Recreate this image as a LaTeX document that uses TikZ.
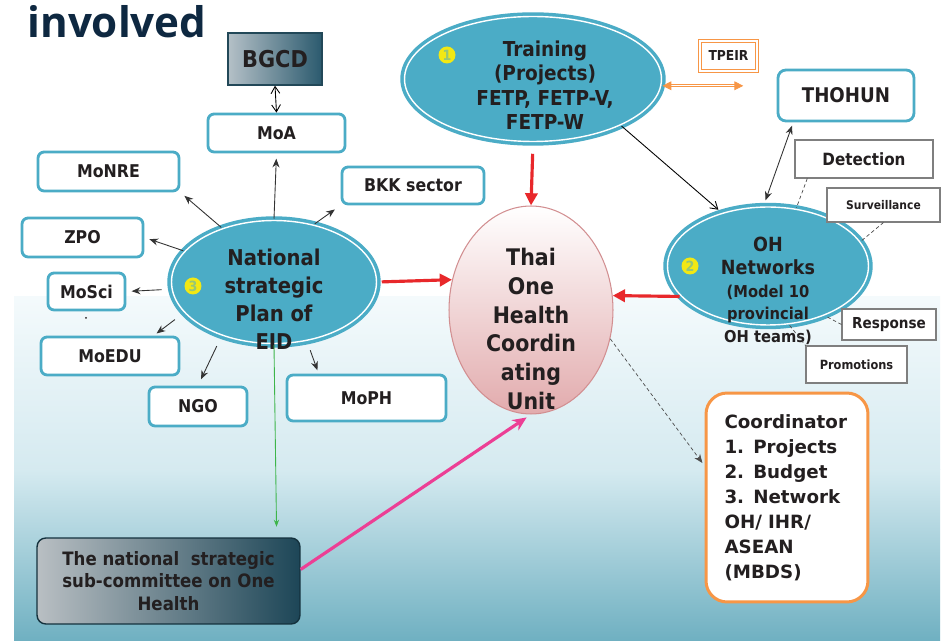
\documentclass[tikz,border=0pt]{standalone}
\usepackage{fontspec}
\setmainfont{DejaVu Sans Condensed}
\newfontfamily\widefont{DejaVu Sans}
\newfontfamily\titlefont{Open Sans}
\usetikzlibrary{shapes.geometric,arrows.meta}

\definecolor{ohteal}{HTML}{4BACC6}
\definecolor{ohred}{HTML}{E8282B}
\definecolor{ohpink}{HTML}{EC3F95}
\definecolor{ohgreen}{HTML}{3DB54A}
\definecolor{ohorange}{HTML}{F79646}
\definecolor{navy}{HTML}{0E2841}
\definecolor{txtdark}{HTML}{231F20}
\definecolor{boxgray}{HTML}{7F7F7F}
\definecolor{thaipink}{HTML}{E2ABAD}
\definecolor{thaiedge}{HTML}{D28F91}
\definecolor{bgcdlight}{HTML}{B4C0C7}
\definecolor{bgcddark}{HTML}{2B5A6E}
\definecolor{sublight}{HTML}{B9BFC3}
\definecolor{subdark}{HTML}{1D4657}
\definecolor{badgeyellow}{HTML}{F2E814}
\definecolor{bgtop}{HTML}{F4FAFC}
\definecolor{bgmid}{HTML}{D5EAF0}
\definecolor{bgbot}{HTML}{6FB0C1}

\begin{document}
\begin{tikzpicture}[x=0.02cm,y=-0.02cm,
  org node/.style={draw=ohteal,line width=1.6pt,rounded corners=3.5pt,fill=white,
    text=txtdark,inner sep=0pt,font=\fontsize{10}{12}\selectfont\bfseries},
  plain node/.style={draw=boxgray,line width=0.6pt,fill=white,text=txtdark,inner sep=0pt},
  blue ellipse/.style={ellipse,draw=ohteal,double=white,double distance=0.8pt,
    line width=2pt,fill=ohteal,inner sep=0pt},
  ell text/.style={align=center,text=txtdark},
  badge/.style={circle,fill=badgeyellow,inner sep=0pt,minimum size=0.34cm,
    text=ohteal!55!badgeyellow,font=\fontsize{8}{8}\selectfont\bfseries},
  thin arrow/.style={-{Stealth[length=5pt,width=4pt]},line width=0.5pt,color=black!80},
  barb arrow/.style={-{Straight Barb[length=4pt,width=5pt]},line width=0.5pt},
  red arrow/.style={-{Triangle[length=7pt,width=7pt]},color=ohred,line width=1.8pt},
  dash line/.style={draw=black!70,line width=0.4pt,dash pattern=on 2pt off 1.5pt}]

  % background
  \useasboundingbox (0,0) rectangle (948,641);
  \fill[white] (0,0) rectangle (948,641);
  \shade[top color=bgtop,bottom color=bgmid] (14,297) rectangle (940,470);
  \shade[top color=bgmid,bottom color=bgbot] (14,470) rectangle (940,641);

  \node[text=navy,font=\titlefont\fontsize{24}{24}\selectfont\bfseries] (title) at (117,22) {involved};

  % ministries around the national plan
  \node[draw=bgcddark!80!black,line width=0.8pt,left color=bgcdlight,right color=bgcddark,
    minimum width=1.88cm,minimum height=1.04cm,text=txtdark,
    font=\fontsize{13.2}{14}\selectfont\bfseries] (bgcd) at (275,59) {BGCD};
  \node[org node,minimum width=2.74cm,minimum height=0.76cm] (moa) at (276.5,133) {MoA};
  \node[org node,minimum width=2.82cm,minimum height=0.78cm] (monre) at (108.5,171.5) {MoNRE};
  \node[org node,minimum width=2.42cm,minimum height=0.78cm] (zpo) at (82.5,237.5) {ZPO};
  \node[org node,minimum width=1.54cm,minimum height=0.74cm] (mosci) at (86.5,291.5) {MoSci};
  \fill[txtdark] (86,318) circle [radius=1];
  \node[org node,minimum width=2.76cm,minimum height=0.76cm] (moedu) at (110,356) {MoEDU};
  \node[org node,minimum width=1.96cm,minimum height=0.78cm] (ngo) at (198,406.5) {NGO};
  \node[org node,minimum width=3.18cm,minimum height=0.92cm] (moph) at (366.5,398) {MoPH};
  \node[org node,minimum width=2.84cm,minimum height=0.74cm] (bkk) at (413,185.5) {BKK sector};

  % the three pillars
  \node[blue ellipse,minimum width=4.1cm,minimum height=2.46cm] (nat) at (274,282) {};
  \node[ell text,font=\fontsize{12.4}{15.9}\selectfont\bfseries] (nattxt) at (274,299)
    {National\\strategic\\Plan of\\EID};
  \node[badge] (b3) at (193,286) {3};

  \node[blue ellipse,minimum width=5.14cm,minimum height=2.5cm] (train) at (533,79) {};
  \node[ell text,font=\fontsize{11.7}{13.9}\selectfont\bfseries] (traintxt) at (545,85)
    {Training\\(Projects)\\FETP, FETP-V,\\FETP-W};
  \node[badge] (b1) at (447,55) {1};

  \node[blue ellipse,minimum width=4.02cm,minimum height=2.36cm] (oh) at (768,266) {};
  \node[ell text,font=\fontsize{11.1}{13}\selectfont\bfseries] (ohtxt) at (768,291)
    {OH\\Networks\\\fontsize{9.3}{13}\selectfont(Model 10\\\fontsize{9.3}{13}\selectfont provincial\\\fontsize{9.3}{13}\selectfont OH teams)};
  \node[badge] (b2) at (690,266) {2};

  \node[ellipse,draw=thaiedge,line width=0.6pt,top color=white,bottom color=thaipink,
    minimum width=3.28cm,minimum height=4.16cm,inner sep=0pt] (thai) at (531,310) {};
  \node[ell text,font=\fontsize{13}{16.4}\selectfont\bfseries] (thaitxt) at (531,329)
    {Thai\\One\\Health\\Coordin\\ating\\Unit};

  % right hand side
  \node[draw=ohorange,double=white,double distance=1pt,line width=0.5pt,fill=white,
    minimum width=1.14cm,minimum height=0.6cm,inner sep=0pt,text=txtdark,
    font=\fontsize{7.8}{9}\selectfont\bfseries] (tpeir) at (728.5,56) {TPEIR};
  \node[org node,rounded corners=4.5pt,minimum width=2.72cm,minimum height=1.02cm,
    font=\fontsize{11.5}{13}\selectfont\bfseries] (thohun) at (846,95.5) {THOHUN};
  \node[plain node,minimum width=2.76cm,minimum height=0.76cm,
    font=\fontsize{9.6}{11}\selectfont\bfseries] (det) at (864,159) {Detection};
  \node[plain node,minimum width=2.26cm,minimum height=0.68cm,
    font=\fontsize{6.8}{8}\selectfont\bfseries] (surv) at (883.5,205) {Surveillance};
  \node[plain node,minimum width=1.88cm,minimum height=0.62cm,
    font=\fontsize{8.6}{10}\selectfont\bfseries] (resp) at (889,324.5) {Response};
  \node[plain node,minimum width=2.02cm,minimum height=0.74cm,
    font=\fontsize{7.2}{9}\selectfont\bfseries] (prom) at (856.5,364.5) {Promotions};

  \node[draw=ohorange,line width=1.7pt,rounded corners=12pt,fill=white,
    minimum width=3.24cm,minimum height=4.18cm,text width=2.5cm,align=left,text=txtdark,
    font=\widefont\fontsize{10.4}{14.2}\selectfont\bfseries] (coord) at (787,497.5)
    {Coordinator\\1. Projects\\2. Budget\\3. Network\\OH/ IHR/\\ASEAN\\(MBDS)};

  \node[draw=subdark!70!black,line width=0.8pt,rounded corners=5pt,left color=sublight,
    right color=subdark,minimum width=5.26cm,minimum height=1.72cm,align=center,
    text=txtdark,font=\fontsize{10.5}{12.8}\selectfont\bfseries] (sub) at (168.5,581)
    {The national\ \ strategic\\sub-committee on One\\Health};

  % connectors
  \path[thin arrow]
   (nat.north) edge[shorten >=3pt] (moa.south)
   (nat.134) edge[shorten >=3pt] (monre.south east)
   (nat.161) edge[shorten >=3pt] (zpo.east)
   (nat.184) edge[shorten <=5pt,shorten >=3pt] (mosci.east)
   (nat.199) edge[shorten <=6pt,shorten >=2pt] (moedu.25)
   (nat.226) edge[shorten <=6pt,shorten >=4pt] (ngo.north)
   (nat.299) edge[shorten <=5pt,shorten >=2pt] (moph.153)
   (nat.55) edge[shorten >=4pt] (bkk.south west);

  \draw[barb arrow,{Straight Barb[length=4pt,width=5pt]}-{Straight Barb[length=4pt,width=5pt]}]
   (bgcd.south) -- (moa.north);
  \draw[barb arrow,shorten >=2pt] (train.-28) -- (oh.131);
  \draw[thin arrow,{Stealth[length=5pt,width=4pt]}-{Stealth[length=5pt,width=4pt]},
    shorten <=2pt,shorten >=3pt] (thohun.207) -- (oh.94);
  \draw[draw=ohorange,double=white,double distance=0.8pt,line width=0.4pt,
    {Triangle[length=5pt,width=5pt]}-{Triangle[length=5pt,width=5pt]},shorten >=19pt]
   (train.-3) -- (train.-3 -| thohun.west);

  \path[red arrow]
   (train.south) edge[shorten <=6pt] (thai.north)
   (nat.east) edge[shorten <=2pt] (thai.159)
   (oh.199) edge (thai.10);

  \draw[dash line] (det.199) -- (oh.64);
  \draw[dash line] (surv.south) -- (oh.15);
  \draw[dash line] (resp.west) -- (oh.-41);
  \draw[dash line] (oh.-70) -- (prom.north west);
  \draw[dash line,-{Stealth[length=5pt,width=4pt]},shorten >=2pt] (thai.-20) -- (coord.159);

  \draw[draw=ohgreen,line width=0.5pt,-{Stealth[length=4pt,width=3pt]},shorten >=6pt]
   (nat.south) -- (sub.22);
  \draw[draw=ohpink,line width=1.8pt,-{Stealth[length=8pt,width=7pt]},shorten >=3pt]
   (sub.5) -- (thai.south);
\end{tikzpicture}
\end{document}
